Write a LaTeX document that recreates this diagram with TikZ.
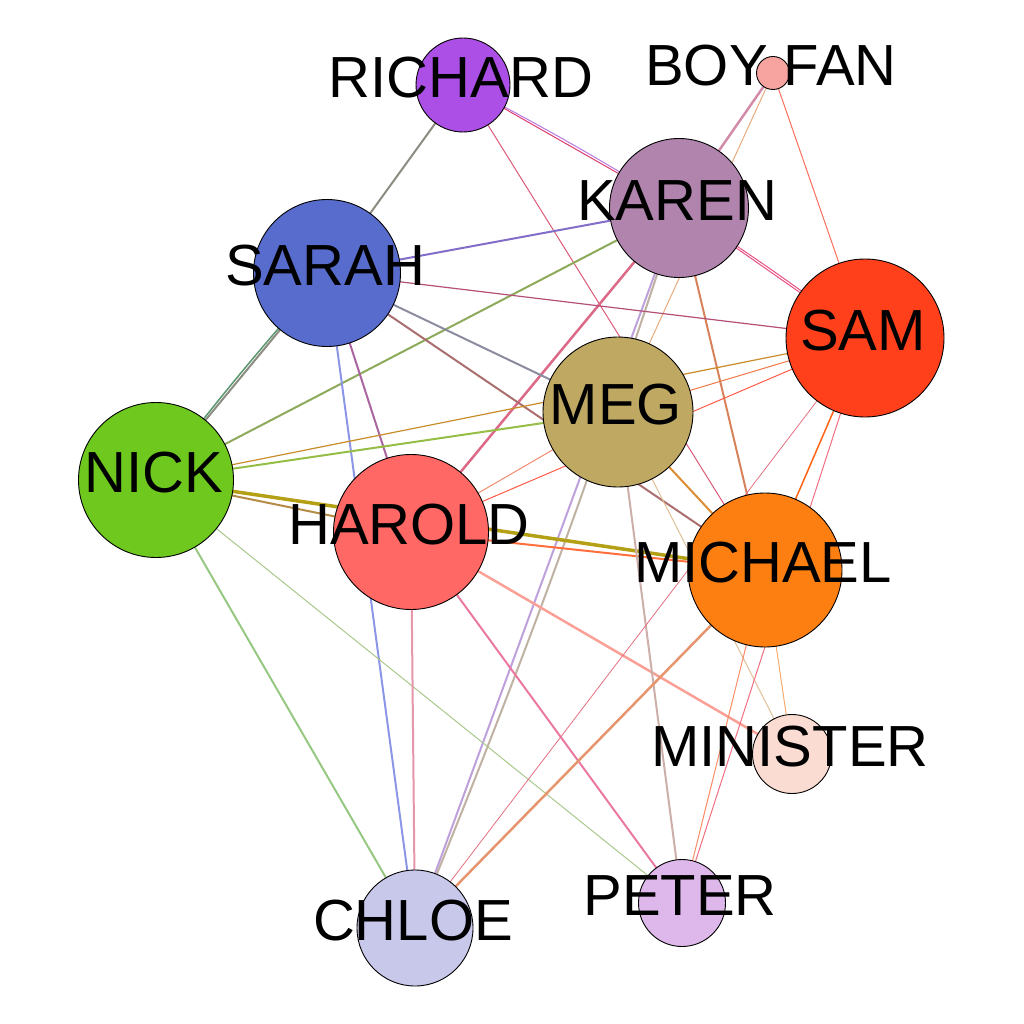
\documentclass[tikz,border=0pt]{standalone}
\usepackage{fontspec}
\setmainfont{Liberation Sans}
\usetikzlibrary{backgrounds}
\definecolor{chrichard}{RGB}{172,79,230}
\definecolor{chboyfan}{RGB}{247,164,160}
\definecolor{chkaren}{RGB}{176,132,172}
\definecolor{chsarah}{RGB}{87,108,204}
\definecolor{chsam}{RGB}{255,64,26}
\definecolor{chmeg}{RGB}{190,168,98}
\definecolor{chnick}{RGB}{110,200,30}
\definecolor{chharold}{RGB}{255,104,100}
\definecolor{chmichael}{RGB}{253,127,17}
\definecolor{chminister}{RGB}{250,220,210}
\definecolor{chchloe}{RGB}{200,200,235}
\definecolor{chpeter}{RGB}{222,184,234}

\begin{document}
\begin{tikzpicture}[x=1pt,y=-1pt,
  charnode/.style={circle,draw=black,line width=0.9pt,inner sep=0pt},
  charlabel/.style={font=\fontsize{58}{58}\selectfont,text=black,xshift=-2pt,yshift=7pt},
  charedge/.style={line width=2pt},
  thinedge/.style={line width=1pt}
]
  \useasboundingbox (0,0) rectangle (1024,1024);

  % Characters
  \node[charnode,fill=chrichard,minimum size=94pt,label={[charlabel]center:RICHARD}] (richard) at (463,85) {};
  \node[charnode,fill=chboyfan,minimum size=33pt,label={[charlabel]center:BOY FAN}] (boyfan) at (773,73) {};
  \node[charnode,fill=chkaren,minimum size=139pt,label={[charlabel]center:KAREN}] (karen) at (679,208) {};
  \node[charnode,fill=chsarah,minimum size=147pt,label={[charlabel]center:SARAH}] (sarah) at (327,273) {};
  \node[charnode,fill=chsam,minimum size=158pt,label={[charlabel]center:SAM}] (sam) at (865,338) {};
  \node[charnode,fill=chmeg,minimum size=150pt,label={[charlabel]center:MEG}] (meg) at (618,412) {};
  \node[charnode,fill=chnick,minimum size=155pt,label={[charlabel]center:NICK}] (nick) at (156,480) {};
  \node[charnode,fill=chharold,minimum size=155pt,label={[charlabel]center:HAROLD}] (harold) at (411,532) {};
  \node[charnode,fill=chmichael,minimum size=154pt,label={[charlabel]center:MICHAEL}] (michael) at (765,570) {};
  \node[charnode,fill=chminister,minimum size=79pt,label={[charlabel]center:MINISTER}] (minister) at (792,754) {};
  \node[charnode,fill=chchloe,minimum size=116pt,label={[charlabel]center:CHLOE}] (chloe) at (415,928) {};
  \node[charnode,fill=chpeter,minimum size=87pt,label={[charlabel]center:PETER}] (peter) at (682,903) {};

  % Relations, behind the circles
  \begin{pgfonlayer}{background}
    \draw[charedge,color={rgb,255:red,140;green,140;blue,130}] (richard.center) -- (sarah.center);
    \draw[thinedge,color={rgb,255:red,185;green,120;blue,225}] (richard.center) to[bend left=2] (karen.center);
    \draw[thinedge,color={rgb,255:red,220;green,60;blue,110}] (richard.center) -- (karen.center);
    \draw[thinedge,color={rgb,255:red,220;green,90;blue,120}] (richard.center) -- (michael.center);
    \draw[line width=2.5pt,color={rgb,255:red,210;green,140;blue,170}] (boyfan.center) -- (karen.center);
    \draw[thinedge,color={rgb,255:red,232;green,170;blue,125}] (boyfan.center) -- (meg.center);
    \draw[thinedge,color={rgb,255:red,250;green,110;blue,90}] (boyfan.center) -- (sam.center);
    \draw[charedge,color={rgb,255:red,130;green,110;blue,200}] (karen.center) -- (sarah.center);
    \draw[charedge,color={rgb,255:red,140;green,170;blue,90}] (karen.center) -- (nick.center);
    \draw[thinedge,color={rgb,255:red,230;green,80;blue,130}] (karen.center) -- (sam.center);
    \draw[thinedge,color={rgb,255:red,230;green,80;blue,130}] (karen.center) to[bend left=2] (sam.center);
    \draw[line width=2.5pt,color={rgb,255:red,220;green,105;blue,135}] (karen.center) -- (harold.center);
    \draw[charedge,color={rgb,255:red,190;green,160;blue,220}] (karen.center) -- (chloe.center);
    \draw[charedge,color={rgb,255:red,192;green,178;blue,162}] (karen.center) to[bend left=2] (chloe.center);
    \draw[charedge,color={rgb,255:red,215;green,130;blue,90}] (karen.center) -- (michael.center);
    \draw[charedge,color={rgb,255:red,140;green,140;blue,130}] (sarah.center) -- (nick.center);
    \draw[line width=1.5pt,color={rgb,255:red,90;green,150;blue,110}] (sarah.center) to[bend right=2] (nick.center);
    \draw[charedge,color={rgb,255:red,170;green,100;blue,160}] (sarah.center) -- (harold.center);
    \draw[charedge,color={rgb,255:red,140;green,150;blue,230}] (sarah.center) -- (chloe.center);
    \draw[line width=1.2pt,color={rgb,255:red,180;green,80;blue,120}] (sarah.center) -- (sam.center);
    \draw[charedge,color={rgb,255:red,140;green,140;blue,160}] (sarah.center) -- (meg.center);
    \draw[charedge,color={rgb,255:red,170;green,110;blue,110}] (sarah.center) -- (michael.center);
    \draw[line width=1.2pt,color={rgb,255:red,200;green,140;blue,40}] (nick.center) -- (sam.center);
    \draw[charedge,color={rgb,255:red,150;green,190;blue,70}] (nick.center) -- (meg.center);
    \draw[line width=3.5pt,color={rgb,255:red,180;green,160;blue,20}] (nick.center) -- (michael.center);
    \draw[charedge,color={rgb,255:red,180;green,140;blue,70}] (nick.center) -- (harold.center);
    \draw[charedge,color={rgb,255:red,150;green,200;blue,130}] (nick.center) -- (chloe.center);
    \draw[thinedge,color={rgb,255:red,170;green,200;blue,140}] (nick.center) -- (peter.center);
    \draw[thinedge,color={rgb,255:red,240;green,140;blue,110}] (harold.center) -- (meg.center);
    \draw[thinedge,color={rgb,255:red,255;green,90;blue,70}] (harold.center) -- (sam.center);
    \draw[charedge,color={rgb,255:red,255;green,110;blue,60}] (harold.center) -- (michael.center);
    \draw[charedge,color={rgb,255:red,230;green,150;blue,170}] (harold.center) -- (chloe.center);
    \draw[charedge,color={rgb,255:red,235;green,120;blue,160}] (harold.center) -- (peter.center);
    \draw[line width=2.5pt,color={rgb,255:red,250;green,160;blue,150}] (harold.center) -- (minister.center);
    \draw[thinedge,color={rgb,255:red,240;green,120;blue,70}] (meg.center) -- (sam.center);
    \draw[charedge,color={rgb,255:red,220;green,140;blue,50}] (meg.center) -- (michael.center);
    \draw[thinedge,color={rgb,255:red,225;green,190;blue,150}] (meg.center) -- (minister.center);
    \draw[charedge,color={rgb,255:red,205;green,175;blue,170}] (meg.center) -- (peter.center);
    \draw[line width=1.5pt,color={rgb,255:red,255;green,100;blue,20}] (sam.center) -- (michael.center);
    \draw[thinedge,color={rgb,255:red,240;green,110;blue,130}] (sam.center) -- (peter.center);
    \draw[line width=0.8pt,color={rgb,255:red,230;green,110;blue,130}] (sam.center) -- (chloe.center);
    \draw[line width=2.5pt,color={rgb,255:red,230;green,150;blue,110}] (michael.center) -- (chloe.center);
    \draw[thinedge,color={rgb,255:red,250;green,140;blue,100}] (michael.center) -- (peter.center);
    \draw[thinedge,color={rgb,255:red,250;green,170;blue,110}] (michael.center) -- (minister.center);
  \end{pgfonlayer}
\end{tikzpicture}
\end{document}
